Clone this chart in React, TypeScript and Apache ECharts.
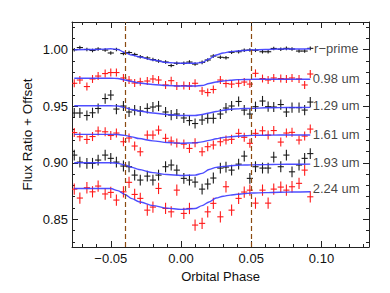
import React, { useEffect, useRef } from "react";
import * as echarts from "echarts";

// ---- data ----
const phase = [-0.076, -0.072, -0.067, -0.063, -0.059, -0.054, -0.05, -0.046, -0.041, -0.037, -0.033, -0.029, -0.024, -0.02, -0.016, -0.011, -0.007, -0.003, 0.002, 0.006, 0.01, 0.015, 0.019, 0.023, 0.028, 0.032, 0.036, 0.041, 0.045, 0.049, 0.053, 0.058, 0.062, 0.066, 0.071, 0.075, 0.079, 0.084, 0.088, 0.092];

const fluxRprime = [1.0000, 1.0019, 1.0002, 0.9993, 1.0006, 0.9997, 0.9971, 1.0002, 0.9966, 0.9975, 0.9958, 0.9938, 0.9927, 0.9913, 0.9900, 0.9891, 0.9860, 0.9880, 0.9880, 0.9891, 0.9873, 0.9888, 0.9909, 0.9944, 0.9933, 0.9929, 0.9977, 0.9982, 0.9995, 0.9997, 0.9995, 0.9982, 0.9982, 1.0011, 1.0004, 1.0012, 1.0006, 0.9988, 0.9988, 1.0012];
const flux098 = [0.9703, 0.9732, 0.9674, 0.9741, 0.9767, 0.9789, 0.9798, 0.9798, 0.9750, 0.9732, 0.9705, 0.9717, 0.9723, 0.9741, 0.9732, 0.9688, 0.9726, 0.9679, 0.9683, 0.9679, 0.9703, 0.9635, 0.9621, 0.9648, 0.9732, 0.9701, 0.9696, 0.9703, 0.9714, 0.9696, 0.9791, 0.9745, 0.9732, 0.9750, 0.9745, 0.9741, 0.9750, 0.9741, 0.9688, 0.9785];
const flux129 = [0.9440, 0.9440, 0.9418, 0.9442, 0.9480, 0.9568, 0.9599, 0.9475, 0.9502, 0.9449, 0.9466, 0.9458, 0.9481, 0.9493, 0.9502, 0.9449, 0.9422, 0.9431, 0.9396, 0.9373, 0.9347, 0.9378, 0.9393, 0.9393, 0.9431, 0.9484, 0.9502, 0.9542, 0.9466, 0.9431, 0.9496, 0.9546, 0.9496, 0.9493, 0.9515, 0.9449, 0.9488, 0.9488, 0.9466, 0.9537];
const flux161 = [0.9267, 0.9230, 0.9206, 0.9232, 0.9281, 0.9274, 0.9241, 0.9263, 0.9186, 0.9219, 0.9148, 0.9097, 0.9245, 0.9245, 0.9289, 0.9216, 0.9192, 0.9174, 0.9165, 0.9127, 0.9177, 0.9097, 0.9142, 0.9157, 0.9186, 0.9201, 0.9207, 0.9260, 0.9225, 0.9172, 0.9260, 0.9283, 0.9245, 0.9285, 0.9183, 0.9263, 0.9269, 0.9201, 0.9236, 0.9298];
const flux193 = [0.9068, 0.9006, 0.8995, 0.8995, 0.9024, 0.9068, 0.9039, 0.9006, 0.8971, 0.8965, 0.8891, 0.8847, 0.8882, 0.8847, 0.8891, 0.8965, 0.8980, 0.8935, 0.8862, 0.8847, 0.8829, 0.8767, 0.8812, 0.8865, 0.8953, 0.8962, 0.8935, 0.8988, 0.9059, 0.8862, 0.8965, 0.8953, 0.8953, 0.9050, 0.8965, 0.9068, 0.8920, 0.8980, 0.9039, 0.9081];
const flux224 = [0.8767, 0.8688, 0.8779, 0.8743, 0.8794, 0.8724, 0.8738, 0.8670, 0.8743, 0.8827, 0.8720, 0.8685, 0.8581, 0.8608, 0.8773, 0.8596, 0.8566, 0.8758, 0.8552, 0.8596, 0.8449, 0.8464, 0.8566, 0.8641, 0.8522, 0.8788, 0.8581, 0.8685, 0.8741, 0.8758, 0.8643, 0.8758, 0.8643, 0.8767, 0.8785, 0.8758, 0.8788, 0.8818, 0.8935, 0.8699];

const modelPhase = [-0.076, -0.06, -0.05, -0.045, -0.04, -0.035, -0.03, -0.02, -0.01, 0, 0.01, 0.015, 0.02, 0.025, 0.03, 0.035, 0.04, 0.045, 0.05, 0.06, 0.07, 0.08, 0.092];
const modelRprime = [1.0000, 1.0002, 1.0008, 1.0002, 0.9975, 0.9953, 0.9938, 0.9909, 0.9887, 0.9880, 0.9880, 0.9887, 0.9918, 0.9953, 0.9971, 0.9982, 0.9988, 0.9993, 0.9997, 1.0002, 1.0006, 1.0006, 1.0009];
const model098 = [0.9747, 0.9747, 0.9747, 0.9745, 0.9732, 0.9719, 0.9705, 0.9692, 0.9683, 0.9679, 0.9679, 0.9683, 0.9701, 0.9714, 0.9723, 0.9730, 0.9735, 0.9736, 0.9738, 0.9739, 0.9739, 0.9739, 0.9738];
const model129 = [0.9504, 0.9504, 0.9504, 0.9502, 0.9488, 0.9471, 0.9458, 0.9440, 0.9427, 0.9418, 0.9418, 0.9427, 0.9440, 0.9453, 0.9464, 0.9473, 0.9477, 0.9480, 0.9481, 0.9486, 0.9488, 0.9489, 0.9490];
const model161 = [0.9251, 0.9251, 0.9251, 0.9250, 0.9242, 0.9229, 0.9214, 0.9194, 0.9179, 0.9173, 0.9176, 0.9185, 0.9198, 0.9212, 0.9223, 0.9230, 0.9235, 0.9239, 0.9242, 0.9244, 0.9245, 0.9245, 0.9245];
const model193 = [0.9000, 0.9000, 0.9000, 0.8995, 0.8980, 0.8959, 0.8940, 0.8913, 0.8896, 0.8888, 0.8891, 0.8906, 0.8940, 0.8959, 0.8968, 0.8973, 0.8978, 0.8980, 0.8981, 0.8984, 0.8986, 0.8987, 0.8988];
const model224 = [0.8773, 0.8773, 0.8772, 0.8754, 0.8719, 0.8683, 0.8655, 0.8621, 0.8599, 0.8588, 0.8595, 0.8621, 0.8653, 0.8688, 0.8704, 0.8714, 0.8721, 0.8727, 0.8732, 0.8736, 0.8739, 0.8741, 0.8743];

const bandNames = ["r\u2212prime", "0.98 um", "1.29 um", "1.61 um", "1.93 um", "2.24 um"];
const bandLabelY = [1.0013, 0.9745, 0.9505, 0.9253, 0.9000, 0.8773];
const bandLabelPhase = [0.0947, 0.0937, 0.0937, 0.0937, 0.0937, 0.0937];
const bandYErr = [0.0016, 0.0035, 0.0045, 0.0040, 0.0048, 0.0050];
const phaseErr = 0.0022;
const eclipseEdges = [-0.041, 0.049];

const xMajorTicks = [-0.05, 0, 0.05, 0.1];
const xMinorTicks = [-0.07, -0.06, -0.04, -0.03, -0.02, -0.01, 0.01, 0.02, 0.03, 0.04, 0.06, 0.07, 0.08, 0.09, 0.11, 0.12, 0.13];
const yMajorTicks = [0.85, 0.9, 0.95, 1.0];
const yMinorTicks = [0.83, 0.84, 0.86, 0.87, 0.88, 0.89, 0.91, 0.92, 0.93, 0.94, 0.96, 0.97, 0.98, 0.99, 1.01, 1.02];
const xRange = [-0.0776, 0.1338];
const yRange = [0.8255, 1.0245];
const yTitle = "Flux Ratio + Offset";
const xTitle = "Orbital Phase";

const FONT = "Liberation Sans, Arial, Helvetica, sans-serif";
const AXIS_COLOR = "#222";

function fmt(v: number): string {
  return v.toFixed(2).replace("-", "\u2212");
}

export default function App() {
  const ref = useRef<HTMLDivElement>(null);

  useEffect(() => {
    if (!ref.current) return;
    const chart = echarts.init(ref.current, null, { renderer: "svg" });

    const fluxes = [fluxRprime, flux098, flux129, flux161, flux193, flux224];
    const models = [modelRprime, model098, model129, model161, model193, model224];
    const colors = ["#1a1a1a", "#ff1a1a", "#1a1a1a", "#ff1a1a", "#1a1a1a", "#ff1a1a"];

    const mkAxisX = (pos: string, major: boolean, labels: boolean) => ({
      type: "value",
      position: pos,
      min: xRange[0],
      max: xRange[1],
      gridIndex: 0,
      axisLine: { show: major, onZero: false, lineStyle: { color: AXIS_COLOR, width: 1 } },
      axisTick: {
        show: true,
        inside: true,
        length: major ? 6 : 3,
        customValues: major ? xMajorTicks : xMinorTicks,
        lineStyle: { color: AXIS_COLOR, width: 1 },
      },
      axisLabel: {
        show: labels,
        customValues: xMajorTicks,
        formatter: (v: number) => fmt(v),
        color: "#111",
        fontFamily: FONT,
        fontSize: 13,
        margin: 5,
      },
      splitLine: { show: false },
      name: labels ? xTitle : "",
      nameLocation: "middle",
      nameGap: 21,
      nameTextStyle: { color: "#111", fontFamily: FONT, fontSize: 13, verticalAlign: "top" },
    });

    const mkAxisY = (pos: string, major: boolean, labels: boolean) => ({
      type: "value",
      position: pos,
      min: yRange[0],
      max: yRange[1],
      gridIndex: 0,
      axisLine: { show: major, onZero: false, lineStyle: { color: AXIS_COLOR, width: 1 } },
      axisTick: {
        show: true,
        inside: true,
        length: major ? 6 : 3,
        customValues: major ? yMajorTicks : yMinorTicks,
        lineStyle: { color: AXIS_COLOR, width: 1 },
      },
      axisLabel: {
        show: labels,
        customValues: yMajorTicks,
        formatter: (v: number) => fmt(v),
        color: "#111",
        fontFamily: FONT,
        fontSize: 13,
        margin: 4,
      },
      splitLine: { show: false },
    });

    const series: any[] = [];

    fluxes.forEach((arr, k) => {
      series.push({
        type: "custom",
        name: bandNames[k] + " data",
        xAxisIndex: 0,
        yAxisIndex: 0,
        clip: true,
        encode: { x: 0, y: 1 },
        data: phase.map((p, i) => [p, arr[i], phaseErr, bandYErr[k]]),
        renderItem: (params: any, api: any) => {
          const x = api.value(0);
          const y = api.value(1);
          const ex = api.value(2);
          const ey = api.value(3);
          const l = api.coord([x - ex, y]);
          const r = api.coord([x + ex, y]);
          const t = api.coord([x, y + ey]);
          const b = api.coord([x, y - ey]);
          const style = { stroke: colors[k], lineWidth: 1.1 };
          return {
            type: "group",
            children: [
              { type: "line", shape: { x1: l[0], y1: l[1], x2: r[0], y2: r[1] }, style },
              { type: "line", shape: { x1: t[0], y1: t[1], x2: b[0], y2: b[1] }, style },
            ],
          };
        },
      });
    });

    models.forEach((arr, k) => {
      series.push({
        type: "line",
        name: bandNames[k] + " model",
        xAxisIndex: 0,
        yAxisIndex: 0,
        data: modelPhase.map((p, i) => [p, arr[i]]),
        showSymbol: false,
        smooth: 0.3,
        smoothMonotone: "x",
        lineStyle: { color: "#3b3bff", width: 1.4, opacity: 0.9 },
        z: 3,
      });
    });

    series.push({
      type: "scatter",
      name: "labels",
      xAxisIndex: 0,
      yAxisIndex: 0,
      symbolSize: 0,
      data: bandNames.map((n, k) => ({ value: [bandLabelPhase[k], bandLabelY[k]], name: n })),
      label: {
        show: true,
        position: "right",
        distance: 0,
        formatter: (p: any) => p.name,
        color: "#111",
        fontFamily: FONT,
        fontSize: 13,
      },
      z: 4,
    });

    series.push({
      type: "line",
      name: "eclipse",
      xAxisIndex: 0,
      yAxisIndex: 0,
      data: [],
      markLine: {
        silent: true,
        symbol: "none",
        label: { show: false },
        lineStyle: { color: "#8a4a10", type: [5, 3], width: 1.2 },
        data: eclipseEdges.map((e) => ({ xAxis: e })),
      },
    });

    chart.setOption({
      animation: false,
      backgroundColor: "#ffffff",
      grid: { left: 72, right: 21, top: 22, bottom: 46, containLabel: false },
      xAxis: [
        mkAxisX("bottom", true, true),
        mkAxisX("bottom", false, false),
        mkAxisX("top", true, false),
        mkAxisX("top", false, false),
      ],
      yAxis: [
        mkAxisY("left", true, true),
        mkAxisY("left", false, false),
        mkAxisY("right", true, false),
        mkAxisY("right", false, false),
      ],
      graphic: [
        {
          type: "text",
          x: 27,
          y: 134.5,
          rotation: Math.PI / 2,
          style: {
            text: yTitle,
            fill: "#111",
            font: "13.5px " + FONT,
            align: "center",
            verticalAlign: "middle",
          },
        },
      ],
      series,
    });

    return () => chart.dispose();
  }, []);

  return (
    <div
      ref={ref}
      style={{ position: "absolute", left: 0, top: 0, width: 390, height: 293, background: "#fff" }}
    />
  );
}
